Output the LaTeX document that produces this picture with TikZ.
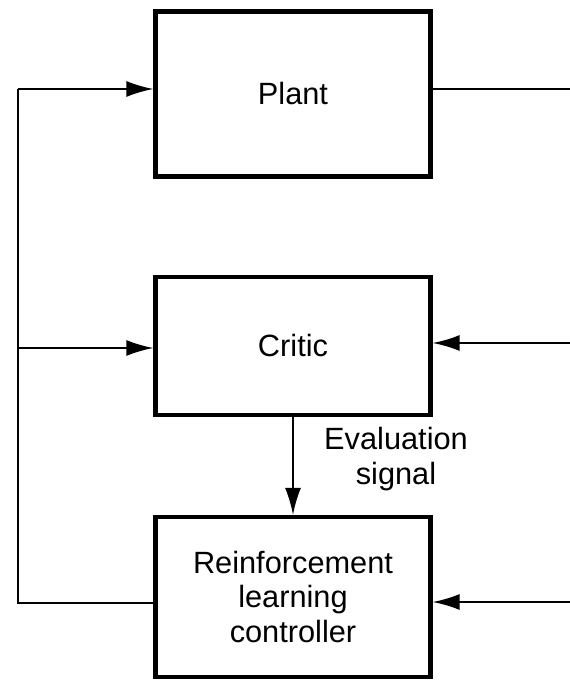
\documentclass[tikz,border=0pt]{standalone}
\usepackage{fontspec}
\setmainfont{Liberation Sans}
\usetikzlibrary{arrows.meta}

\tikzset{
  block/.style={draw, line width=2.4pt, minimum width=5.5cm, inner sep=0pt, align=center,
    font=\fontsize{17.5}{19.5}\selectfont},
  conn/.style={line width=1.1pt},
  flow/.style={conn, -{Latex[length=5.4mm,width=3.2mm]}}
}

\begin{document}
\begin{tikzpicture}
\useasboundingbox (0,0) rectangle (11.4,13.64);
% boxes
\node[block, minimum height=3.3cm] (plant) at (5.86,11.76) {Plant};
\node[block, minimum height=2.75cm] (critic) at (5.86,6.72) {Critic};
\node[block, minimum height=3.2cm] (rlc) at (5.86,1.7) {Reinforcement\\learning\\controller};
% left feedback
\coordinate (lb) at (0.36,1.58);
\coordinate (lm) at (0.36,6.68);
\coordinate (lt) at (0.36,11.86);
\draw[conn] (rlc.west |- lb) -- (lb) -- (lt);
\draw[flow] (lt) -- (plant.west |- lt);
\draw[flow] (lm) -- (critic.west |- lm);
% right side
\coordinate (rt) at (11.4,11.86);
\coordinate (rm) at (11.4,6.78);
\coordinate (rb) at (11.4,1.6);
\draw[conn] (plant.east |- rt) -- (rt);
\draw[flow] (rm) -- (critic.east |- rm);
\draw[flow] (rb) -- (rlc.east |- rb);
% evaluation
\draw[flow] (critic.south) -- (rlc.north);
\node[align=center, font=\fontsize{17.5}{19.5}\selectfont] (eval) at (7.92,4.46) {Evaluation\\signal};
\end{tikzpicture}
\end{document}
